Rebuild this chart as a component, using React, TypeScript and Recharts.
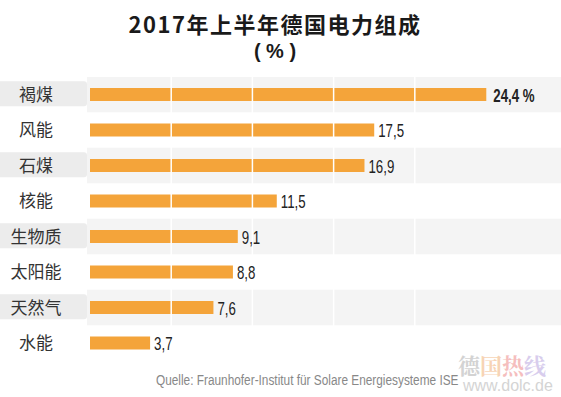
import { BarChart, Bar, XAxis, YAxis, ReferenceLine, LabelList } from "recharts";

const categories = ["褐煤", "风能", "石煤", "核能", "生物质", "太阳能", "天然气", "水能"];
const shares = [24.4, 17.5, 16.9, 11.5, 9.1, 8.8, 7.6, 3.7];
const gridTicks = [5, 10, 15, 20];
const xMax = 29.0;

const data = categories.map((name, i) => ({ name, value: shares[i] }));

const CHART_H = 284;
const BAND = CHART_H / categories.length;
const SANS = "'Liberation Sans', Arial, sans-serif";
const CJK = "'Noto Sans CJK SC', 'Noto Sans', sans-serif";

function CategoryTick(props: any) {
  const { y, payload, index } = props;
  return (
    <g>
      {index % 2 === 0 && <rect x={-4} y={y - 13.5} width={91} height={25} rx={3} fill="#ececec" />}
      <text x={36} y={y} dy={6} textAnchor="middle" fontSize={17} fill="#333" fontFamily={CJK}>
        {payload.value}
      </text>
    </g>
  );
}

function rowBand(props: any) {
  const { x, y, width, height, index } = props;
  if (index % 2 !== 0) return <g />;
  const cy = y + height / 2;
  return <rect x={x - 3} y={cy - BAND / 2} width={width + 10} height={BAND} fill="#f4f4f4" />;
}

// condensed look: regular sans squeezed horizontally
function ValueLabel(props: any) {
  const { x, y, width, height, value, index } = props;
  const txt = String(value).replace(".", ",") + (index === 0 ? " %" : "");
  const gap = index === 0 ? 7 : 4;
  return (
    <text
      transform={`translate(${x + width + gap},${y + height / 2 + 7}) scale(0.7,1)`}
      fontSize={19}
      fontWeight={index === 0 ? 700 : 400}
      fill="#222"
      fontFamily={SANS}
    >
      {txt}
    </text>
  );
}

export default function App() {
  return (
    <div style={{ position: "relative", width: 561, height: 397, background: "#fff", overflow: "hidden" }}>
      <style>{`body{margin:0}`}</style>
      <div
        style={{
          position: "absolute",
          top: 10,
          left: 0,
          width: 550,
          textAlign: "center",
          fontFamily: CJK,
          fontWeight: 700,
          fontSize: 22,
          letterSpacing: 1.5,
          lineHeight: "27px",
          color: "#1a1a1a",
        }}
      >
        2017年上半年德国电力组成
      </div>
      <div
        style={{
          position: "absolute",
          top: 40,
          left: 0,
          width: 550,
          textAlign: "center",
          fontFamily: SANS,
          fontWeight: 700,
          fontSize: 20,
          lineHeight: "22px",
          whiteSpace: "pre",
          color: "#1a1a1a",
        }}
      >
        {"( % )"}
      </div>
      <div style={{ position: "absolute", top: 77, left: 0 }}>
        <BarChart
          layout="vertical"
          width={561}
          height={CHART_H}
          data={data}
          margin={{ top: 0, right: 0, bottom: 0, left: 0 }}
        >
          <XAxis type="number" domain={[0, xMax]} hide allowDataOverflow />
          <YAxis
            type="category"
            dataKey="name"
            width={90}
            axisLine={false}
            tickLine={false}
            interval={0}
            tick={<CategoryTick />}
          />
          <Bar dataKey="value" fill="#f4a43a" barSize={13} isAnimationActive={false} background={rowBand}>
            <LabelList dataKey="value" content={<ValueLabel />} />
          </Bar>
          {gridTicks.map((t) => (
            <ReferenceLine key={t} x={t} stroke="#ffffff" strokeWidth={1.5} />
          ))}
        </BarChart>
      </div>
      <div
        style={{
          position: "absolute",
          top: 371,
          left: 156,
          fontFamily: SANS,
          fontSize: 14,
          lineHeight: "18px",
          color: "#888",
          whiteSpace: "nowrap",
          transform: "scaleX(0.845)",
          transformOrigin: "left center",
        }}
      >
        Quelle: Fraunhofer-Institut für Solare Energiesysteme ISE
      </div>
      <div
        style={{
          position: "absolute",
          top: 352,
          left: 458,
          fontFamily: "'Noto Serif CJK SC', " + CJK,
          fontSize: 22,
          lineHeight: "26px",
          fontWeight: 700,
          whiteSpace: "nowrap",
          opacity: 0.55,
        }}
      >
        <span style={{ color: "#b0b0b0" }}>德</span>
        <span style={{ color: "#f2b27a" }}>国</span>
        <span style={{ color: "#ee8a8a" }}>热</span>
        <span style={{ color: "#b9a6e0" }}>线</span>
      </div>
      <div
        style={{
          position: "absolute",
          top: 378,
          left: 463,
          fontFamily: SANS,
          fontSize: 16,
          lineHeight: "16px",
          color: "#d4d4d4",
          whiteSpace: "nowrap",
        }}
      >
        www.dolc.de
      </div>
    </div>
  );
}
